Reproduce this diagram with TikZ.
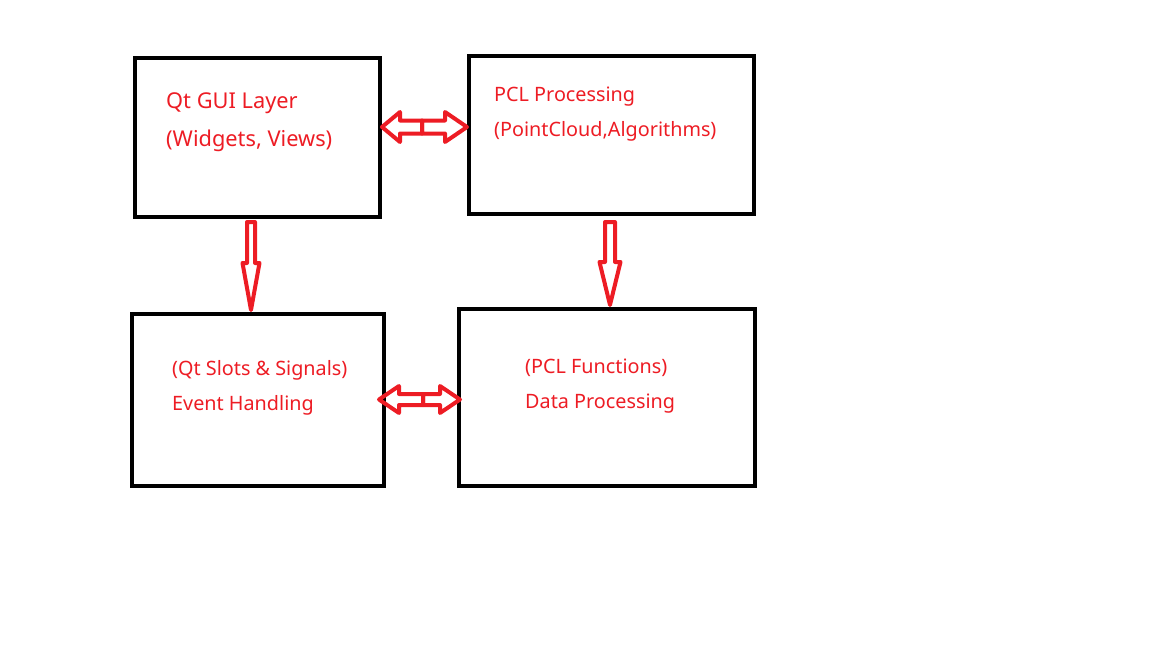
\documentclass[tikz,border=0pt]{standalone}
\usepackage{fontspec}
\setmainfont{Noto Sans}
\definecolor{paintred}{HTML}{ED1C24}

\begin{document}
\begin{tikzpicture}[x=1pt,y=-1pt]
   \useasboundingbox (0,0) rectangle (1152,648);
   \tikzstyle{layer}=[draw=black, line width=4pt, outer sep=0pt, inner sep=0pt]
   \tikzstyle{label}=[anchor=base west, text=paintred, inner sep=0pt, font=\fontsize{19.8}{22}\selectfont]
   \tikzstyle{flow}=[draw=paintred, line width=4pt, line join=round]
   % the four layers
   \node[layer, minimum width=245, minimum height=159] (gui) at (257.5,137.5) {};
   \node[layer, minimum width=285, minimum height=158] (pcl) at (611.5,135) {};
   \node[layer, minimum width=252, minimum height=172] (event) at (258,400) {};
   \node[layer, minimum width=296, minimum height=177] (data) at (607,397.5) {};
   % texts
   \node[label, font=\fontsize{21.8}{24}\selectfont] (gui1) at (166,108) {Qt GUI Layer};
   \node[label, font=\fontsize{21.8}{24}\selectfont] (gui2) at (166,146.5) {(Widgets, Views)};
   \node[label] (pcl1) at (494,101) {PCL Processing};
   \node[label] (pcl2) at (494,136) {(PointCloud,Algorithms)};
   \node[label] (event1) at (172,375) {(Qt Slots \& Signals)};
   \node[label] (event2) at (172,410) {Event Handling};
   \node[label] (data1) at (525,373) {(PCL Functions)};
   \node[label] (data2) at (525,408) {Data Processing};
   % block arrows
   \coordinate (gui-tip) at (382,127);
   \coordinate (pcl-tip) at (467,127);
   \draw[flow] (gui-tip) -- ++(18,-15) -- ++(0,8.5) -- ++(22,0) -- ++(0,13) -- ++(-22,0) -- ++(0,8.5) -- cycle;
   \draw[flow] (pcl-tip) -- ++(-22,-15) -- ++(0,8.5) -- ++(-23,0) -- ++(0,13) -- ++(23,0) -- ++(0,8.5) -- cycle;
   \coordinate (event-tip) at (379,399.5);
   \coordinate (data-tip) at (460,399.5);
   \draw[flow] (event-tip) -- ++(20,-13.5) -- ++(0,8) -- ++(24,0) -- ++(0,11) -- ++(-24,0) -- ++(0,8) -- cycle;
   \draw[flow] (data-tip) -- ++(-20,-13.5) -- ++(0,8) -- ++(-17,0) -- ++(0,11) -- ++(17,0) -- ++(0,8) -- cycle;
   \coordinate (gui-down) at (251,310);
   \coordinate (pcl-down) at (610,305);
   \draw[flow] (gui-down) -- ++(-8.5,-47) -- ++(4.5,0) -- ++(0,-41) -- ++(8,0) -- ++(0,41) -- ++(4.5,0) -- cycle;
   \draw[flow] (pcl-down) -- ++(-10.5,-43) -- ++(5.5,0) -- ++(0,-40) -- ++(10,0) -- ++(0,40) -- ++(5.5,0) -- cycle;
\end{tikzpicture}
\end{document}
